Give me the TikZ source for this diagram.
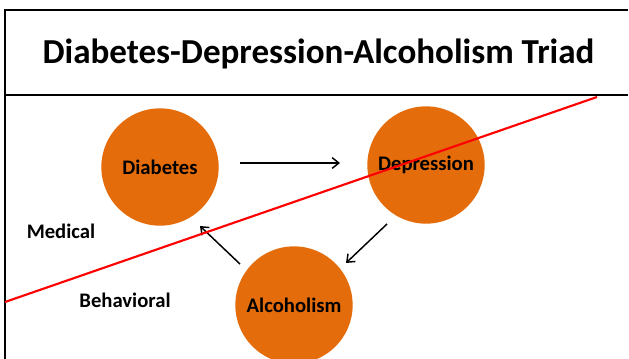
\documentclass[tikz,border=0pt]{standalone}
\usepackage{fontspec}
\setmainfont{Carlito}
\usetikzlibrary{arrows.meta,calc}
\definecolor{orangefill}{RGB}{228,108,10}
\definecolor{redline}{RGB}{255,0,0}
\tikzset{
  blob/.style={circle, fill=orangefill, draw=none, minimum size=88pt, inner sep=0pt, font=\fontsize{15.5pt}{18pt}\selectfont\bfseries},
  flow/.style={line width=1.1pt, -{Straight Barb[length=5pt,width=8pt,line width=1.1pt]}},
  frame/.style={line width=1.6pt, black},
  side/.style={font=\fontsize{15.5pt}{18pt}\selectfont\bfseries}
}
\begin{document}
\begin{tikzpicture}[x=0.75pt,y=-0.75pt]
\useasboundingbox (0,0) rectangle (629,358);
% frame
\coordinate (tl) at (5,10);
\coordinate (tr) at (628,10);
\coordinate (ml) at (5,95);
\coordinate (mr) at (628,95);
\coordinate (bl) at (5,360);
\draw[frame] (tr) -- (tl) -- (bl);
\draw[frame] (ml) -- (mr);
\node[font=\fontsize{26.3pt}{30pt}\selectfont\bfseries] (title) at (318.5,54) {Diabetes-Depression-Alcoholism Triad};
% circles
\node[blob] (dia) at (160,167) {Diabetes};
\node[blob] (dep) at (426,165) {Depression};
\node[blob] (alc) at (294,305) {Alcoholism};
% side labels
\node[side] (med) at (61,231) {Medical};
\node[side] (beh) at (125,300) {Behavioral};
% arrows
\draw[flow] ($(dia)+(80,-4)$) -- ($(dep)+(-86,-2)$);
\draw[flow] ($(dep)+(-39,59)$) -- ($(alc)+(52,-42)$);
\draw[flow] ($(alc)+(-54,-41)$) -- ($(dia)+(40,59)$);
% dividing line
\coordinate (rl) at (5,302);
\coordinate (rr) at (597,97);
\draw[redline, line width=1.6pt] (rl) -- (rr);
\end{tikzpicture}
\end{document}
